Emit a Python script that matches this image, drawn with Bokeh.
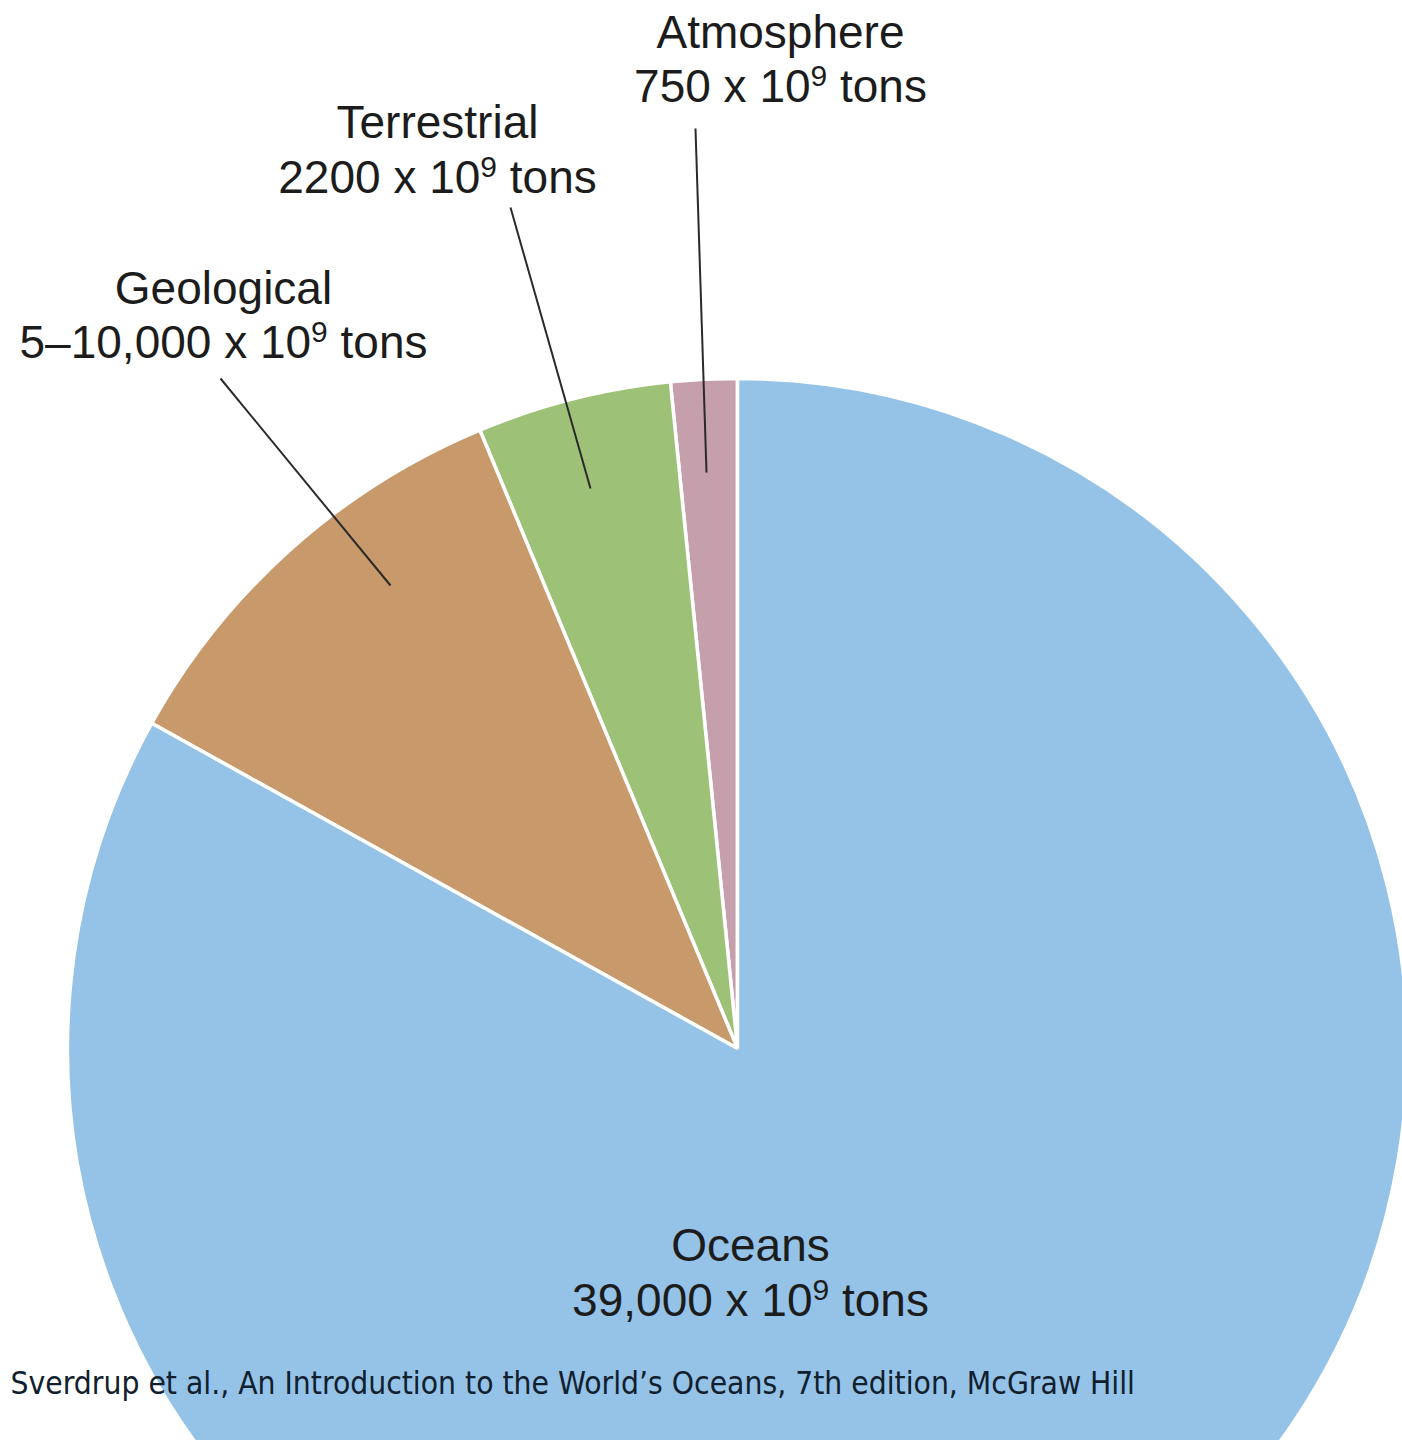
import numpy as np
from bokeh.plotting import figure
from bokeh.models import ColumnDataSource, Range1d
from bokeh.core.properties import value
from bokeh.embed import file_html
from bokeh.resources import INLINE

# Carbon reservoirs of the Earth, in 10^9 tons
reservoirs = ["Atmosphere", "Terrestrial", "Geological", "Oceans"]
amounts = [750, 2200, 5000, 39000]
amount_labels = ["750", "2200", "5–10,000", "39,000"]
colors = ["#C59FAC", "#9DC177", "#C8996B", "#95C2E7"]
source_note = "Sverdrup et al., An Introduction to the World’s Oceans, 7th edition, McGraw Hill"

W, H = 1402, 1440
CX, CY, R = 737, H - 1048, 670

# slice angles: start at 12 o'clock and run anticlockwise
frac = np.array(amounts, dtype=float) / sum(amounts)
ends = np.pi / 2 + 2 * np.pi * np.cumsum(frac)
starts = ends - 2 * np.pi * frac

pie = ColumnDataSource(dict(name=reservoirs, amount=amounts,
                            start=starts, end=ends, color=colors))

p = figure(width=W, height=H, output_backend="svg", toolbar_location=None,
           x_range=Range1d(0, W), y_range=Range1d(0, H),
           x_axis_type=None, y_axis_type=None, min_border=0,
           background_fill_color="white", border_fill_color="white")
p.outline_line_color = None
p.grid.visible = False

p.wedge(x=CX, y=CY, radius=R, start_angle="start", end_angle="end",
        fill_color="color", line_color="white", line_width=3.5, source=pie)

# label layout (centre x, baseline of first and second line, in page pixels)
label_pos = [(780, 47, 101), (437, 137, 192), (223, 303, 357), (750, 1260, 1315)]
leaders = [((695, 128), (706, 472)), ((510, 207), (590, 488)),
           ((220, 378), (390, 585)), None]

FS, SS, RISE = 46, 30, 16
FONT = "Liberation Sans"
TXT = "#1c1c1c"
NOTE_FS = 31.5
DROP = 0.33  # the svg text sits this fraction of its size below the requested baseline

# Arial/Liberation Sans advance widths (per 1000 em)
adv = {c: 556 for c in "0123456789"}
adv.update({" ": 278, "x": 500, "t": 278, "o": 556, "n": 556, "s": 500,
            ",": 278, "–": 556})


def width(s, size):
    return sum(adv.get(c, 556) for c in s) * size / 1000.0


main_x, main_y, main_t, main_a = [], [], [], []
sup_x, sup_y, sup_t = [], [], []
lift_main = DROP * FS
lift_sup = DROP * SS
for name, amt, (cx, b1, b2) in zip(reservoirs, amount_labels, label_pos):
    main_x.append(cx); main_y.append(H - b1 + lift_main); main_t.append(name); main_a.append("center")
    prefix = f"{amt} x 10"
    wp, ws, wsp, wt = width(prefix, FS), width("9", SS), width(" ", FS), width("tons", FS)
    x0 = cx - (wp + ws + wsp + wt) / 2
    main_x.append(x0); main_y.append(H - b2 + lift_main); main_t.append(prefix); main_a.append("left")
    sup_x.append(x0 + wp); sup_y.append(H - b2 + RISE + lift_sup); sup_t.append("9")
    main_x.append(x0 + wp + ws + wsp); main_y.append(H - b2 + lift_main); main_t.append("tons"); main_a.append("left")

p.text(x=main_x, y=main_y, text=main_t, text_align=main_a,
       text_baseline="alphabetic", text_font=value(FONT),
       text_font_size=f"{FS}px", text_color=TXT)
p.text(x=sup_x, y=sup_y, text=sup_t, text_align="left",
       text_baseline="alphabetic", text_font=value(FONT),
       text_font_size=f"{SS}px", text_color=TXT)

for seg in leaders:
    if seg is None:
        continue
    (x1, y1), (x2, y2) = seg
    p.line([x1, x2], [H - y1, H - y2], line_color="#2a2a2a", line_width=2)

p.text(x=[10], y=[H - 1393 + DROP * NOTE_FS], text=[source_note], text_align="left",
       text_baseline="alphabetic", text_font=value("DejaVu Sans Condensed"),
       text_font_size=f"{NOTE_FS}px", text_color="#10202e")

open("out.html", "w").write(file_html(p, INLINE))
